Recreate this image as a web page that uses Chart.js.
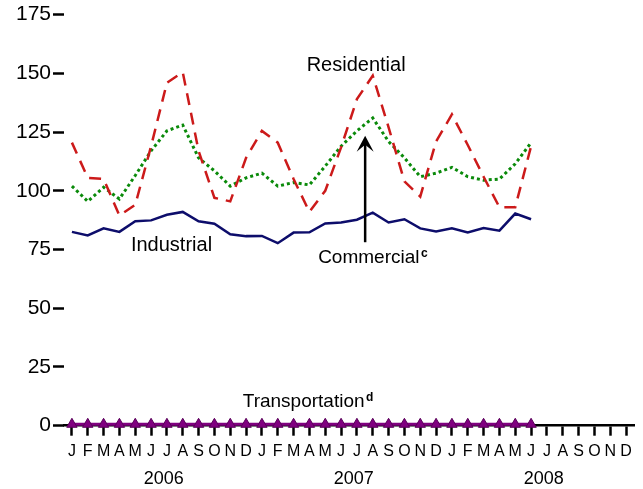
<!DOCTYPE html>
<html>
<head>
<meta charset="utf-8">
<script src="https://cdn.jsdelivr.net/npm/chart.js@4/dist/chart.umd.min.js"></script>
<style>
  html, body { margin: 0; padding: 0; background: #fff; }
  #wrap { width: 643px; height: 489px; position: relative; }
</style>
</head>
<body>
<div id="wrap"><canvas id="salesChart"></canvas></div>
<script>
(function () {
    const monthLabels = ['J', 'F', 'M', 'A', 'M', 'J', 'J', 'A', 'S', 'O', 'N', 'D',
                         'J', 'F', 'M', 'A', 'M', 'J', 'J', 'A', 'S', 'O', 'N', 'D',
                         'J', 'F', 'M', 'A', 'M', 'J', 'J', 'A', 'S', 'O', 'N', 'D'];
    const yearLabels = ['2006', '2007', '2008'];
    const yTicks = [0, 25, 50, 75, 100, 125, 150, 175];

    // monthly values Jan 2006 - Jun 2008
    const residential = [120.5, 105.5, 105, 89.5, 94, 119, 146, 150.5, 117, 97, 95.5, 114,
                         125.5, 120.5, 105, 91, 100, 118.5, 139, 149, 127, 104, 97.5, 121,
                         132.5, 119.5, 106, 93, 93, 119];
    const commercial = [102, 95.5, 101.5, 96.5, 106.5, 117, 125.5, 128, 114, 108.5, 102, 105.5,
                        107.5, 102, 103.5, 102.5, 110.5, 119, 125.5, 131, 121, 114, 106, 107.5,
                        110, 106, 104.5, 105, 111.5, 120.5];
    const industrial = [82.5, 81, 84, 82.5, 87, 87.4, 89.8, 91, 87, 86, 81.5, 80.7,
                        80.8, 77.7, 82.2, 82.3, 86.1, 86.5, 87.7, 90.7, 86.5, 87.9, 84, 82.7,
                        84, 82.3, 84.1, 83, 90.3, 87.9];
    const transportation = [0.6, 0.6, 0.6, 0.6, 0.6, 0.6, 0.6, 0.6, 0.6, 0.6, 0.6, 0.6,
                            0.6, 0.6, 0.6, 0.6, 0.6, 0.6, 0.6, 0.6, 0.6, 0.6, 0.6, 0.6,
                            0.6, 0.6, 0.6, 0.6, 0.6, 0.6];

    const FONT = '"Liberation Sans", Arial, Helvetica, sans-serif';
    Chart.defaults.font.family = FONT;
    Chart.defaults.color = '#000';

    function drawLabel(ctx, text, sup, x, y, size, align) {
        ctx.font = size + 'px ' + FONT;
        ctx.textBaseline = 'alphabetic';
        const w = ctx.measureText(text).width;
        let left = x;
        if (align === 'center') left = x - w / 2;
        ctx.textAlign = 'left';
        ctx.fillText(text, left, y);
        if (sup) {
            ctx.font = 'bold 12px ' + FONT;
            ctx.fillText(sup, left + w + 1.5, y - 6);
        }
    }

    const overlay = {
        id: 'overlay',
        afterDraw(chart) {
            const ctx = chart.ctx;
            const xs = chart.scales.x;
            const ys = chart.scales.y;
            ctx.save();
            ctx.fillStyle = '#000';

            // year row under the month letters
            ctx.font = '18px ' + FONT;
            ctx.textAlign = 'center';
            ctx.textBaseline = 'alphabetic';
            yearLabels.forEach(function (yr, i) {
                ctx.fillText(yr, xs.getPixelForValue(i * 12 + 5.8), xs.top + 58.5);
            });

            // series labels
            drawLabel(ctx, 'Residential', '', xs.getPixelForValue(17.95), ys.getPixelForValue(151), 20, 'center');
            drawLabel(ctx, 'Industrial', '', xs.getPixelForValue(6.29), ys.getPixelForValue(74.2), 20, 'center');
            drawLabel(ctx, 'Commercial', 'c', xs.getPixelForValue(15.55), ys.getPixelForValue(69.2), 19, 'left');
            drawLabel(ctx, 'Transportation', 'd', xs.getPixelForValue(10.79), ys.getPixelForValue(8.1), 19, 'left');

            // arrow pointing at the commercial line
            const ax = xs.getPixelForValue(18.52);
            const yTip = ys.getPixelForValue(123.4);
            const yEnd = ys.getPixelForValue(78.1);
            ctx.strokeStyle = '#000';
            ctx.lineWidth = 2.5;
            ctx.beginPath();
            ctx.moveTo(ax, yEnd);
            ctx.lineTo(ax, yTip + 6);
            ctx.stroke();
            ctx.beginPath();
            ctx.moveTo(ax, yTip);
            ctx.lineTo(ax + 8.5, yTip + 16);
            ctx.lineTo(ax, yTip + 9);
            ctx.lineTo(ax - 8.5, yTip + 16);
            ctx.closePath();
            ctx.fill();
            ctx.restore();
        }
    };

    new Chart(document.getElementById('salesChart'), {
        type: 'line',
        data: {
            labels: monthLabels,
            datasets: [
                { label: 'Transportation', data: transportation, borderColor: '#800080', borderWidth: 3,
                  pointStyle: 'triangle', pointRadius: 6, pointBackgroundColor: '#800080',
                  pointBorderColor: '#5a005a', pointBorderWidth: 1, clip: false, order: 0 },
                { label: 'Industrial', data: industrial, borderColor: '#0d0d6b', borderWidth: 2.5,
                  pointRadius: 0, order: 1 },
                { label: 'Residential', data: residential, borderColor: '#cc1a1a', borderWidth: 2.5,
                  borderDash: [12, 8], pointRadius: 0, order: 2 },
                { label: 'Commercial', data: commercial, borderColor: '#0a8a0a', borderWidth: 3,
                  borderDash: [3, 3], pointRadius: 0, order: 3 }
            ]
        },
        options: {
            responsive: true,
            maintainAspectRatio: false,
            animation: false,
            layout: { padding: { top: 13.5, right: 9, left: 0, bottom: 0 } },
            plugins: {
                legend: { display: false },
                tooltip: { enabled: false }
            },
            scales: {
                x: {
                    type: 'category',
                    offset: true,
                    afterFit: function (scale) { scale.height = 63.3; },
                    border: { display: true, color: '#000', width: 2.5 },
                    grid: { display: true, drawOnChartArea: false, drawTicks: true, tickLength: 10,
                            tickWidth: 2.5, tickColor: '#000', offset: false },
                    ticks: { autoSkip: false, maxRotation: 0, padding: 6, color: '#000',
                             font: { size: 16 } }
                },
                y: {
                    min: 0,
                    max: 175,
                    afterFit: function (scale) { scale.width = 64; },
                    afterBuildTicks: function (scale) { scale.ticks = yTicks.map(function (v) { return { value: v }; }); },
                    border: { display: false },
                    grid: { display: true, drawOnChartArea: false, drawTicks: true, tickLength: 11,
                            tickWidth: 2.5, tickColor: '#000' },
                    ticks: { padding: 2, color: '#000', font: { size: 21 } }
                }
            }
        },
        plugins: [overlay]
    });
})();
</script>
</body>
</html>
